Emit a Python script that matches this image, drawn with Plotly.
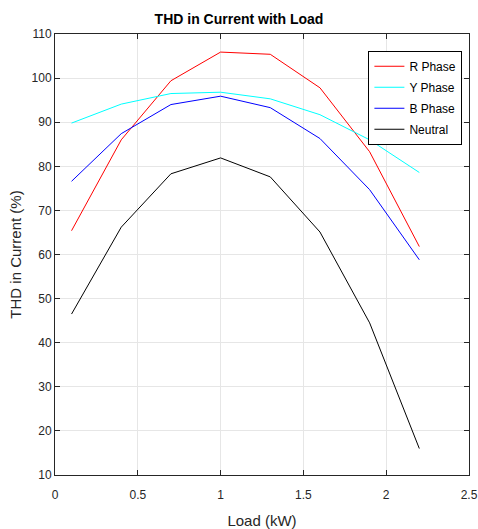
import plotly.graph_objects as go

load_kw = [0.1, 0.4, 0.7, 1.0, 1.3, 1.6, 1.9, 2.2]
r_phase = [65.4, 86.0, 99.4, 105.9, 105.4, 97.8, 83.3, 61.8]
y_phase = [89.8, 94.1, 96.5, 96.8, 95.3, 91.7, 86.0, 78.6]
b_phase = [76.6, 87.4, 94.0, 95.9, 93.3, 86.3, 74.7, 58.8]
neutral = [46.5, 66.2, 78.3, 81.9, 77.6, 65.1, 44.5, 16.0]

series = [("R Phase", r_phase, "#ff0000"),
          ("Y Phase", y_phase, "#00ffff"),
          ("B Phase", b_phase, "#0000ff"),
          ("Neutral", neutral, "#000000")]

fig = go.Figure()
for name, vals, col in series:
    fig.add_trace(go.Scatter(x=load_kw, y=vals, mode="lines", name=name,
                             legendgroup=name,
                             line=dict(color=col, width=1)))

font_family = "Liberation Sans, Arial, sans-serif"
fig.update_layout(
    width=478, height=529,
    margin=dict(l=55, r=9, t=34, b=54),
    paper_bgcolor="white", plot_bgcolor="white",
    font=dict(family=font_family, color="#262626", size=12),
    title=dict(text="<b>THD in Current with Load</b>", x=0.5, xanchor="center",
               y=1 - 19 / 529, yanchor="middle",
               font=dict(size=14, color="black", family=font_family)),
    legend=dict(x=0.757, y=0.962, xanchor="left", yanchor="top",
                bordercolor="black", borderwidth=1, bgcolor="white",
                font=dict(size=12, color="black"), tracegroupgap=2,
                traceorder="grouped", itemwidth=30),
    showlegend=True,
)
fig.update_xaxes(range=[0, 2.5], tickvals=[0, 0.5, 1, 1.5, 2, 2.5],
                 ticktext=["0", "0.5", "1", "1.5", "2", "2.5"],
                 showgrid=True, gridcolor="#e6e6e6", gridwidth=1,
                 showline=True, linecolor="#262626", linewidth=1, mirror="ticks",
                 ticks="inside", ticklen=5, tickcolor="#262626", zeroline=False,
                 ticklabelstandoff=9, automargin=False, ticklabeloverflow="allow",
                 title=dict(text="Load (kW)", font=dict(size=15, color="#262626"), standoff=14),
                 tickfont=dict(size=12))
fig.update_yaxes(range=[10, 110], tickvals=list(range(10, 111, 10)),
                 showgrid=True, gridcolor="#e6e6e6", gridwidth=1,
                 showline=True, linecolor="#262626", linewidth=1, mirror="ticks",
                 ticks="inside", ticklen=5, tickcolor="#262626", zeroline=False,
                 automargin=False, ticklabeloverflow="allow",
                 title=dict(text="THD in Current (%)", font=dict(size=15, color="#262626"), standoff=6),
                 tickfont=dict(size=12))

fig.write_html("out.html")
